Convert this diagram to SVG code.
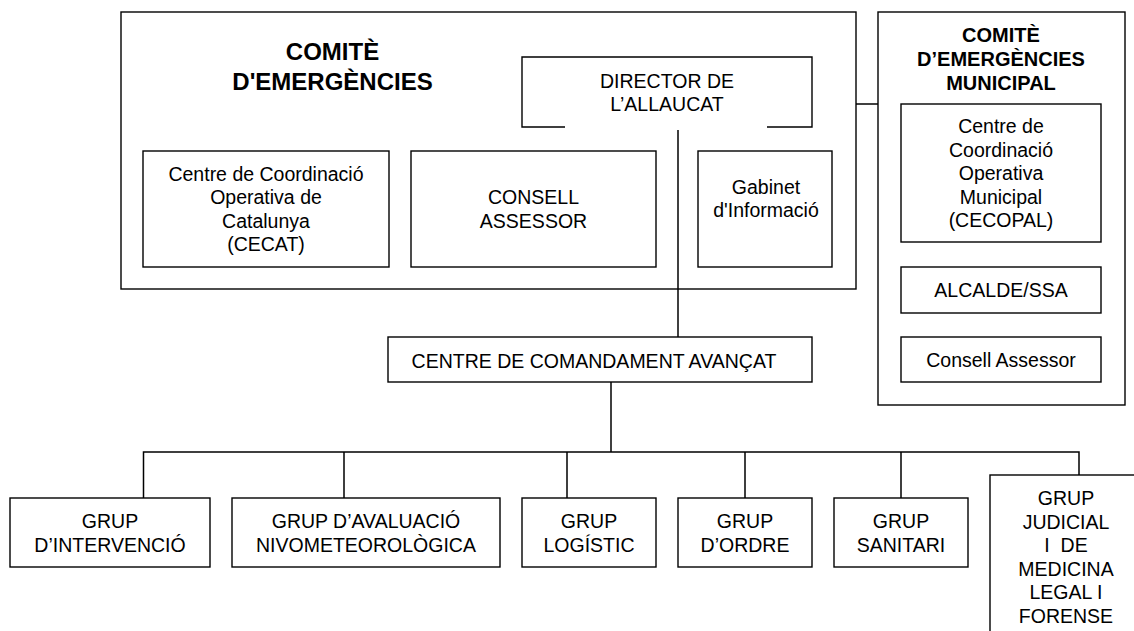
<svg xmlns="http://www.w3.org/2000/svg" width="1134" height="631" viewBox="0 0 1134 631">
<style>
.box{fill:none;stroke:#000;stroke-width:1.4}
.ln{fill:none;stroke:#000;stroke-width:1.5}
text{font-family:"Liberation Sans",Arial,sans-serif;font-size:19.5px;fill:#000;text-anchor:middle}
.t1{font-size:24px;font-weight:bold}
.t2{font-size:20px;font-weight:bold}
</style>
<rect width="1134" height="631" fill="#fff"/>
<g id="comite">
<rect class="box" x="121" y="12" width="735" height="277"/>
<text class="t1" x="332.5" y="60">COMITÈ</text>
<text class="t1" x="332.5" y="90">D'EMERGÈNCIES</text>
</g>
<g id="director">
<path class="box" d="M565,127 H522 V57 H812 V127 H767"/>
<text x="667" y="87.5">DIRECTOR DE</text>
<text x="667" y="111">L’ALLAUCAT</text>
</g>
<g id="cecat">
<rect class="box" x="143" y="151" width="246" height="116"/>
<text x="266" y="180.5">Centre de Coordinació</text>
<text x="266" y="204">Operativa de</text>
<text x="266" y="227.5">Catalunya</text>
<text x="266" y="251">(CECAT)</text>
</g>
<g id="consell">
<rect class="box" x="411" y="151" width="245" height="116"/>
<text x="533.5" y="204">CONSELL</text>
<text x="533.5" y="227.5">ASSESSOR</text>
</g>
<g id="gabinet">
<rect class="box" x="698" y="151" width="134" height="116"/>
<text x="766" y="193.5">Gabinet</text>
<text x="766" y="216.5">d'Informació</text>
</g>
<g id="municipal">
<rect class="box" x="878" y="12" width="247" height="393"/>
<text class="t2" x="1001" y="41.5">COMITÈ</text>
<text class="t2" x="1001" y="65.5">D’EMERGÈNCIES</text>
<text class="t2" x="1001" y="89.5">MUNICIPAL</text>
</g>
<g id="cecopal">
<rect class="box" x="901" y="104" width="200" height="138"/>
<text x="1001" y="133">Centre de</text>
<text x="1001" y="156.5">Coordinació</text>
<text x="1001" y="180">Operativa</text>
<text x="1001" y="203.5">Municipal</text>
<text x="1001" y="227">(CECOPAL)</text>
</g>
<g id="alcalde">
<rect class="box" x="901" y="267" width="200" height="46"/>
<text x="1001" y="297">ALCALDE/SSA</text>
</g>
<g id="consell-municipal">
<rect class="box" x="901" y="337" width="200" height="45"/>
<text x="1001" y="366.5">Consell Assessor</text>
</g>
<g id="cca">
<rect class="box" x="388" y="337" width="424" height="45"/>
<text x="594" y="368">CENTRE DE COMANDAMENT AVANÇAT</text>
</g>
<g id="g-intervencio">
<rect class="box" x="10" y="498" width="200" height="69"/>
<text x="110" y="528">GRUP</text>
<text x="110" y="551.5">D’INTERVENCIÓ</text>
</g>
<g id="g-avaluacio">
<rect class="box" x="232" y="498" width="268" height="69"/>
<text x="366" y="528">GRUP D’AVALUACIÓ</text>
<text x="366" y="551.5">NIVOMETEOROLÒGICA</text>
</g>
<g id="g-logistic">
<rect class="box" x="522" y="498" width="134" height="69"/>
<text x="589" y="528">GRUP</text>
<text x="589" y="551.5">LOGÍSTIC</text>
</g>
<g id="g-ordre">
<rect class="box" x="678" y="498" width="134" height="69"/>
<text x="745" y="528">GRUP</text>
<text x="745" y="551.5">D’ORDRE</text>
</g>
<g id="g-sanitari">
<rect class="box" x="834" y="498" width="134" height="69"/>
<text x="901" y="528">GRUP</text>
<text x="901" y="551.5">SANITARI</text>
</g>
<g id="g-judicial">
<rect class="box" x="990" y="475" width="160" height="170"/>
<text x="1066" y="505">GRUP</text>
<text x="1066" y="528.5">JUDICIAL</text>
<text x="1066" y="552" xml:space="preserve">I  DE</text>
<text x="1066" y="575.5">MEDICINA</text>
<text x="1066" y="599">LEGAL I</text>
<text x="1066" y="622.5">FORENSE</text>
</g>
<g id="connectors">
<path class="ln" d="M856,104 H878"/>
<path class="ln" d="M678,130 V337"/>
<path class="ln" d="M611,382 V452"/>
<path class="ln" d="M143.5,498 V452 H1079 V475"/>
<path class="ln" d="M344,452 V498 M567,452 V498 M745,452 V498 M901,452 V498"/>
</g>
</svg>
